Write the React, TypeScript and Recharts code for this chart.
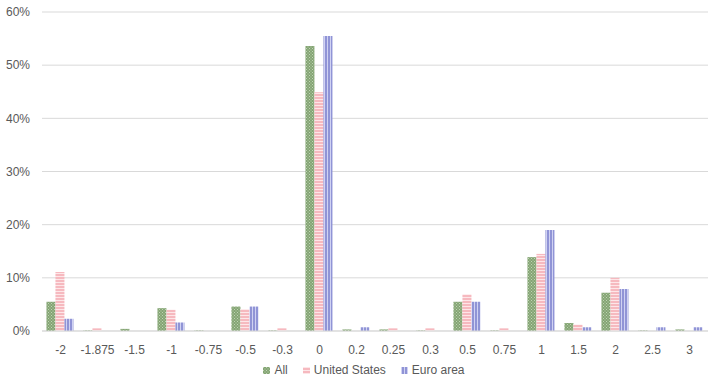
import { BarChart, Bar, XAxis, YAxis, CartesianGrid, Legend } from 'recharts';

const categories = ['-2', '-1.875', '-1.5', '-1', '-0.75', '-0.5', '-0.3', '0', '0.2', '0.25', '0.3', '0.5', '0.75', '1', '1.5', '2', '2.5', '3'];
const allValues = [5.5, 0.1, 0.4, 4.3, 0.1, 4.6, 0.1, 53.6, 0.3, 0.3, 0.1, 5.5, 0.1, 13.9, 1.5, 7.2, 0.1, 0.3];
const usValues = [11.1, 0.5, 0, 4.0, 0, 4.1, 0.5, 44.9, 0, 0.5, 0.5, 6.9, 0.5, 14.5, 1.2, 10.0, 0, 0];
const euroValues = [2.3, 0, 0, 1.6, 0, 4.6, 0, 55.5, 0.7, 0, 0, 5.5, 0, 19.0, 0.7, 7.9, 0.7, 0.7];
const yTicks = [0, 10, 20, 30, 40, 50, 60];

const data = categories.map((c, i) => ({
  cat: c,
  all: allValues[i],
  us: usValues[i],
  euro: euroValues[i],
}));

const series = [
  { key: 'all', name: 'All', fill: 'url(#patAll)' },
  { key: 'us', name: 'United States', fill: 'url(#patUs)' },
  { key: 'euro', name: 'Euro area', fill: 'url(#patEuro)' },
];

const LegendContent = () => (
  <div style={{ display: 'flex', justifyContent: 'center', gap: 15, paddingTop: 6, paddingLeft: 20, fontSize: 12, color: '#595959', fontFamily: 'Arial, "Liberation Sans", sans-serif' }}>
    {series.map((s) => (
      <span key={s.key} style={{ display: 'flex', alignItems: 'center', gap: 4 }}>
        <svg width={7} height={7}>
          <rect width={7} height={7} fill={s.fill} />
        </svg>
        {s.name}
      </span>
    ))}
  </div>
);

export default function App() {
  return (
    <div style={{ position: 'absolute', left: 0, top: 0, width: 718, height: 386, background: '#fff' }}>
      <BarChart
        width={718}
        height={386}
        data={data}
        margin={{ top: 12, right: 10, left: 0, bottom: 0 }}
        barCategoryGap="12%"
        barGap={0}
        style={{ fontFamily: 'Arial, "Liberation Sans", sans-serif' }}
      >
        <defs>
          <pattern id="patAll" width={3} height={3} patternUnits="userSpaceOnUse">
            <rect width={3} height={3} fill="#84a574" />
            <rect x={0} y={0} width={1} height={1} fill="#bfd3b4" />
            <rect x={1.5} y={1.5} width={1} height={1} fill="#bfd3b4" />
          </pattern>
          <pattern id="patUs" width={3} height={3} patternUnits="userSpaceOnUse">
            <rect width={3} height={3} fill="#f6b9bf" />
            <rect x={0} y={0} width={3} height={1} fill="#fde6e8" />
          </pattern>
          <pattern id="patEuro" width={3} height={3} patternUnits="userSpaceOnUse">
            <rect width={3} height={3} fill="#9094d6" />
            <rect x={0} y={0} width={1} height={3} fill="#d0d2f2" />
          </pattern>
        </defs>
        <CartesianGrid vertical={false} stroke="#d9d9d9" />
        <XAxis
          dataKey="cat"
          interval={0}
          tickLine={false}
          axisLine={{ stroke: '#d9d9d9' }}
          tick={{ fill: '#595959', fontSize: 12 }}
          tickMargin={8}
          height={26}
        />
        <YAxis
          domain={[0, 60]}
          ticks={yTicks}
          width={42}
          axisLine={false}
          tickLine={false}
          tickMargin={6}
          tickFormatter={(v) => `${v}%`}
          tick={{ fill: '#595959', fontSize: 12 }}
        />
        <Legend verticalAlign="bottom" height={29} content={<LegendContent />} />
        {series.map((s) => (
          <Bar key={s.key} dataKey={s.key} name={s.name} fill={s.fill} isAnimationActive={false} />
        ))}
      </BarChart>
    </div>
  );
}
